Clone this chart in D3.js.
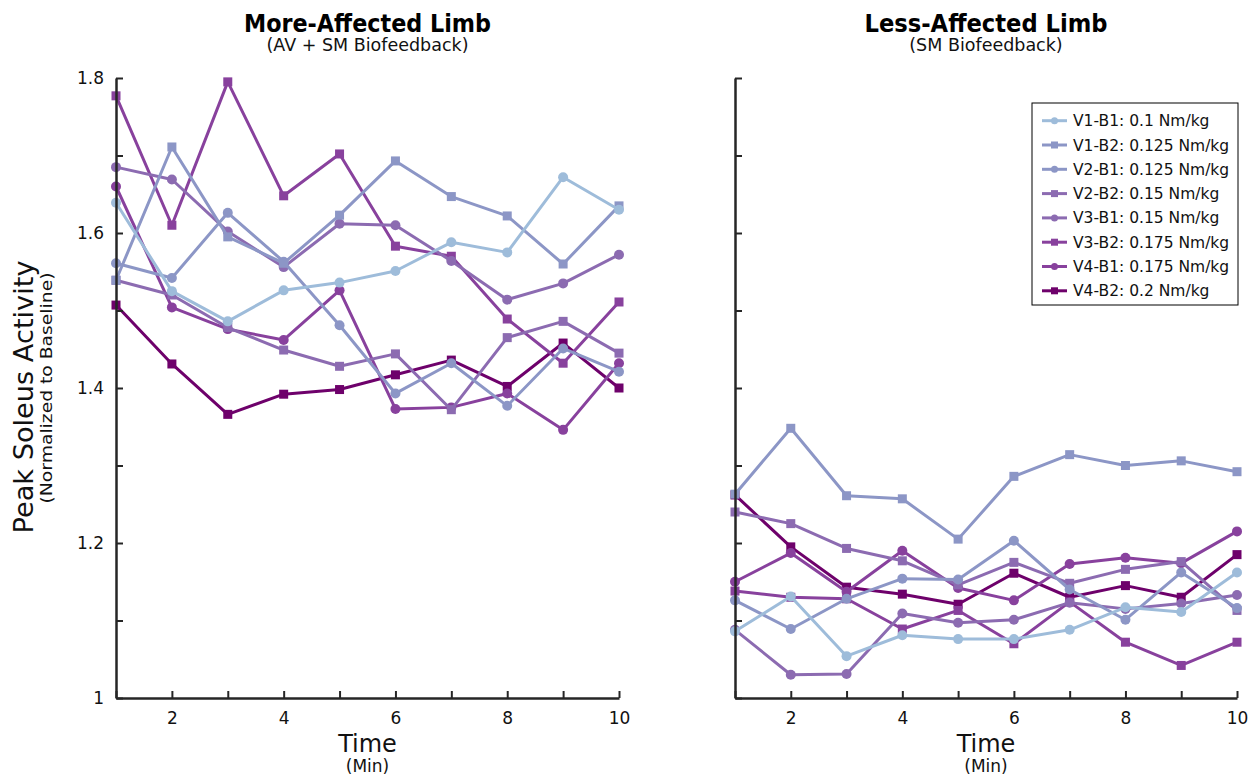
<!DOCTYPE html>
<html><head><meta charset="utf-8">
<script src="https://cdn.jsdelivr.net/npm/d3@7"></script>
<style>
body{margin:0;background:#fff;}
svg{display:block;font-family:"DejaVu Sans",Verdana,sans-serif;}
</style>
</head><body>
<svg id="chart" width="1255" height="778"></svg>
<script>
// ---------- data ----------
const time = [1, 2, 3, 4, 5, 6, 7, 8, 9, 10];
const seriesLabels = [
  "V1-B1: 0.1 Nm/kg", "V1-B2: 0.125 Nm/kg", "V2-B1: 0.125 Nm/kg", "V2-B2: 0.15 Nm/kg",
  "V3-B1: 0.15 Nm/kg", "V3-B2: 0.175 Nm/kg", "V4-B1: 0.175 Nm/kg", "V4-B2: 0.2 Nm/kg"
];
const yTickValues = [1.0, 1.1, 1.2, 1.3, 1.4, 1.5, 1.6, 1.7, 1.8];
const xTickValues = [1, 2, 3, 4, 5, 6, 7, 8, 9, 10];

// More-affected limb (AV + SM biofeedback)
const moreV1B1 = [1.639, 1.525, 1.486, 1.526, 1.536, 1.551, 1.588, 1.575, 1.672, 1.630];
const moreV1B2 = [1.539, 1.711, 1.595, 1.561, 1.623, 1.693, 1.647, 1.622, 1.560, 1.635];
const moreV2B1 = [1.561, 1.542, 1.626, 1.563, 1.481, 1.393, 1.432, 1.377, 1.451, 1.421];
const moreV2B2 = [1.539, 1.520, 1.478, 1.449, 1.428, 1.444, 1.372, 1.465, 1.486, 1.445];
const moreV3B1 = [1.685, 1.669, 1.602, 1.556, 1.612, 1.610, 1.564, 1.514, 1.535, 1.572];
const moreV3B2 = [1.777, 1.610, 1.795, 1.648, 1.702, 1.583, 1.570, 1.489, 1.432, 1.511];
const moreV4B1 = [1.660, 1.504, 1.476, 1.462, 1.526, 1.373, 1.375, 1.393, 1.346, 1.432];
const moreV4B2 = [1.507, 1.431, 1.366, 1.392, 1.398, 1.417, 1.436, 1.402, 1.458, 1.400];

// Less-affected limb (SM biofeedback)
const lessV1B1 = [1.086, 1.131, 1.054, 1.081, 1.076, 1.076, 1.088, 1.117, 1.111, 1.162];
const lessV1B2 = [1.263, 1.348, 1.261, 1.257, 1.205, 1.286, 1.314, 1.300, 1.306, 1.292];
const lessV2B1 = [1.126, 1.089, 1.128, 1.154, 1.153, 1.203, 1.140, 1.101, 1.162, 1.116];
const lessV2B2 = [1.240, 1.225, 1.193, 1.177, 1.146, 1.175, 1.148, 1.166, 1.176, 1.113];
const lessV3B1 = [1.088, 1.030, 1.031, 1.109, 1.097, 1.101, 1.123, 1.115, 1.122, 1.133];
const lessV3B2 = [1.138, 1.130, 1.128, 1.089, 1.113, 1.070, 1.124, 1.072, 1.042, 1.072];
const lessV4B1 = [1.150, 1.187, 1.137, 1.190, 1.142, 1.126, 1.173, 1.181, 1.174, 1.215];
const lessV4B2 = [1.262, 1.195, 1.143, 1.134, 1.121, 1.161, 1.130, 1.145, 1.130, 1.185];

const moreSeries = [moreV1B1, moreV1B2, moreV2B1, moreV2B2, moreV3B1, moreV3B2, moreV4B1, moreV4B2];
const lessSeries = [lessV1B1, lessV1B2, lessV2B1, lessV2B2, lessV3B1, lessV3B2, lessV4B1, lessV4B2];

// ---------- style ----------
const colors = ["#9ebcda", "#8c96c6", "#8c96c6", "#8c6bb1", "#8c6bb1", "#88419d", "#88419d", "#6e016b"];
const markers = ["circle", "square", "circle", "square", "circle", "square", "circle", "square"];
const axisColor = "#262626";

const svg = d3.select("#chart");
const y = d3.scaleLinear().domain([1, 1.8]).range([698, 78]);

function drawPanel(x0, x1, seriesList, title, subtitle, showYLabels) {
  const x = d3.scaleLinear().domain([1, 10]).range([x0, x1]);
  const g = svg.append("g");

  // lines (reverse order so V1-B1 ends on top)
  const line = d3.line().x((d, i) => x(time[i])).y(d => y(d));
  for (let s = seriesList.length - 1; s >= 0; s--) {
    const vals = seriesList[s];
    const sg = g.append("g");
    sg.append("path").datum(vals).attr("d", line)
      .attr("fill", "none").attr("stroke", colors[s]).attr("stroke-width", 3)
      .attr("stroke-linejoin", "round");
    if (markers[s] === "circle") {
      sg.selectAll("circle").data(vals).join("circle")
        .attr("cx", (d, i) => x(time[i])).attr("cy", d => y(d)).attr("r", 5)
        .attr("fill", colors[s]);
    } else {
      sg.selectAll("rect").data(vals).join("rect")
        .attr("x", (d, i) => x(time[i]) - 4.5).attr("y", d => y(d) - 4.5)
        .attr("width", 9).attr("height", 9).attr("fill", colors[s]);
    }
  }

  // axes
  const xAxis = d3.axisBottom(x).tickValues(xTickValues).tickSize(-7).tickSizeOuter(0)
    .tickPadding(14).tickFormat(d => d % 2 === 0 ? d : "");
  const gx = g.append("g").attr("transform", "translate(0,698)").call(xAxis);
  const yAxis = d3.axisLeft(y).tickValues(yTickValues).tickSize(-7).tickSizeOuter(0)
    .tickPadding(12)
    .tickFormat(d => showYLabels && Math.round(d * 10) % 2 === 0 ? d3.format("")(+d.toFixed(1)) : "");
  const gy = g.append("g").attr("transform", `translate(${x0},0)`).call(yAxis);
  [gx, gy].forEach(a => {
    a.select(".domain").attr("stroke", axisColor).attr("stroke-width", 2.5);
    a.selectAll(".tick line").attr("stroke", axisColor).attr("stroke-width", 2);
    a.selectAll(".tick text").attr("fill", "#111").style("font-size", "17px")
      .style("font-family", "'DejaVu Sans', Verdana, sans-serif");
  });

  const cx = (x0 + x1) / 2;
  g.append("text").attr("x", cx).attr("y", 31.5).attr("text-anchor", "middle")
    .attr("font-weight", "bold").attr("font-size", 24).attr("fill", "#000")
    .attr("textLength", title.startsWith("More") ? 247 : 243).attr("lengthAdjust", "spacingAndGlyphs")
    .text(title);
  g.append("text").attr("x", cx).attr("y", 51).attr("text-anchor", "middle")
    .attr("font-size", 17.5).attr("fill", "#111").text(subtitle);

  g.append("text").attr("x", cx).attr("y", 752).attr("text-anchor", "middle")
    .attr("font-size", 24).attr("fill", "#111").text("Time");
  g.append("text").attr("x", cx).attr("y", 772).attr("text-anchor", "middle")
    .attr("font-size", 17).attr("fill", "#111").text("(Min)");
  return x;
}

drawPanel(116, 619, moreSeries, "More-Affected Limb", "(AV + SM Biofeedback)", true);
drawPanel(735, 1237, lessSeries, "Less-Affected Limb", "(SM Biofeedback)", false);

// y-axis labels
svg.append("text").attr("transform", "translate(33,397) rotate(-90)").attr("text-anchor", "middle")
  .attr("font-size", 26).attr("fill", "#111").attr("textLength", 273).attr("lengthAdjust", "spacingAndGlyphs")
  .text("Peak Soleus Activity");
svg.append("text").attr("transform", "translate(52,388) rotate(-90)").attr("text-anchor", "middle")
  .attr("font-size", 16).attr("fill", "#111").attr("textLength", 231).attr("lengthAdjust", "spacingAndGlyphs")
  .text("(Normalized to Baseline)");

// legend
const lg = svg.append("g");
lg.append("rect").attr("x", 1032).attr("y", 103).attr("width", 206).attr("height", 202)
  .attr("fill", "#fff").attr("stroke", "#000").attr("stroke-width", 1);
seriesLabels.forEach((lab, i) => {
  const ry = 120.7 + i * 24.3;
  lg.append("line").attr("x1", 1042).attr("x2", 1067).attr("y1", ry).attr("y2", ry)
    .attr("stroke", colors[i]).attr("stroke-width", 3);
  if (markers[i] === "circle") {
    lg.append("circle").attr("cx", 1054.5).attr("cy", ry).attr("r", 3.5).attr("fill", colors[i]);
  } else {
    lg.append("rect").attr("x", 1051).attr("y", ry - 3.5).attr("width", 7).attr("height", 7).attr("fill", colors[i]);
  }
  lg.append("text").attr("x", 1073).attr("y", ry + 5.5).attr("font-size", 15.5).attr("fill", "#111").text(lab);
});
</script>
</body></html>
